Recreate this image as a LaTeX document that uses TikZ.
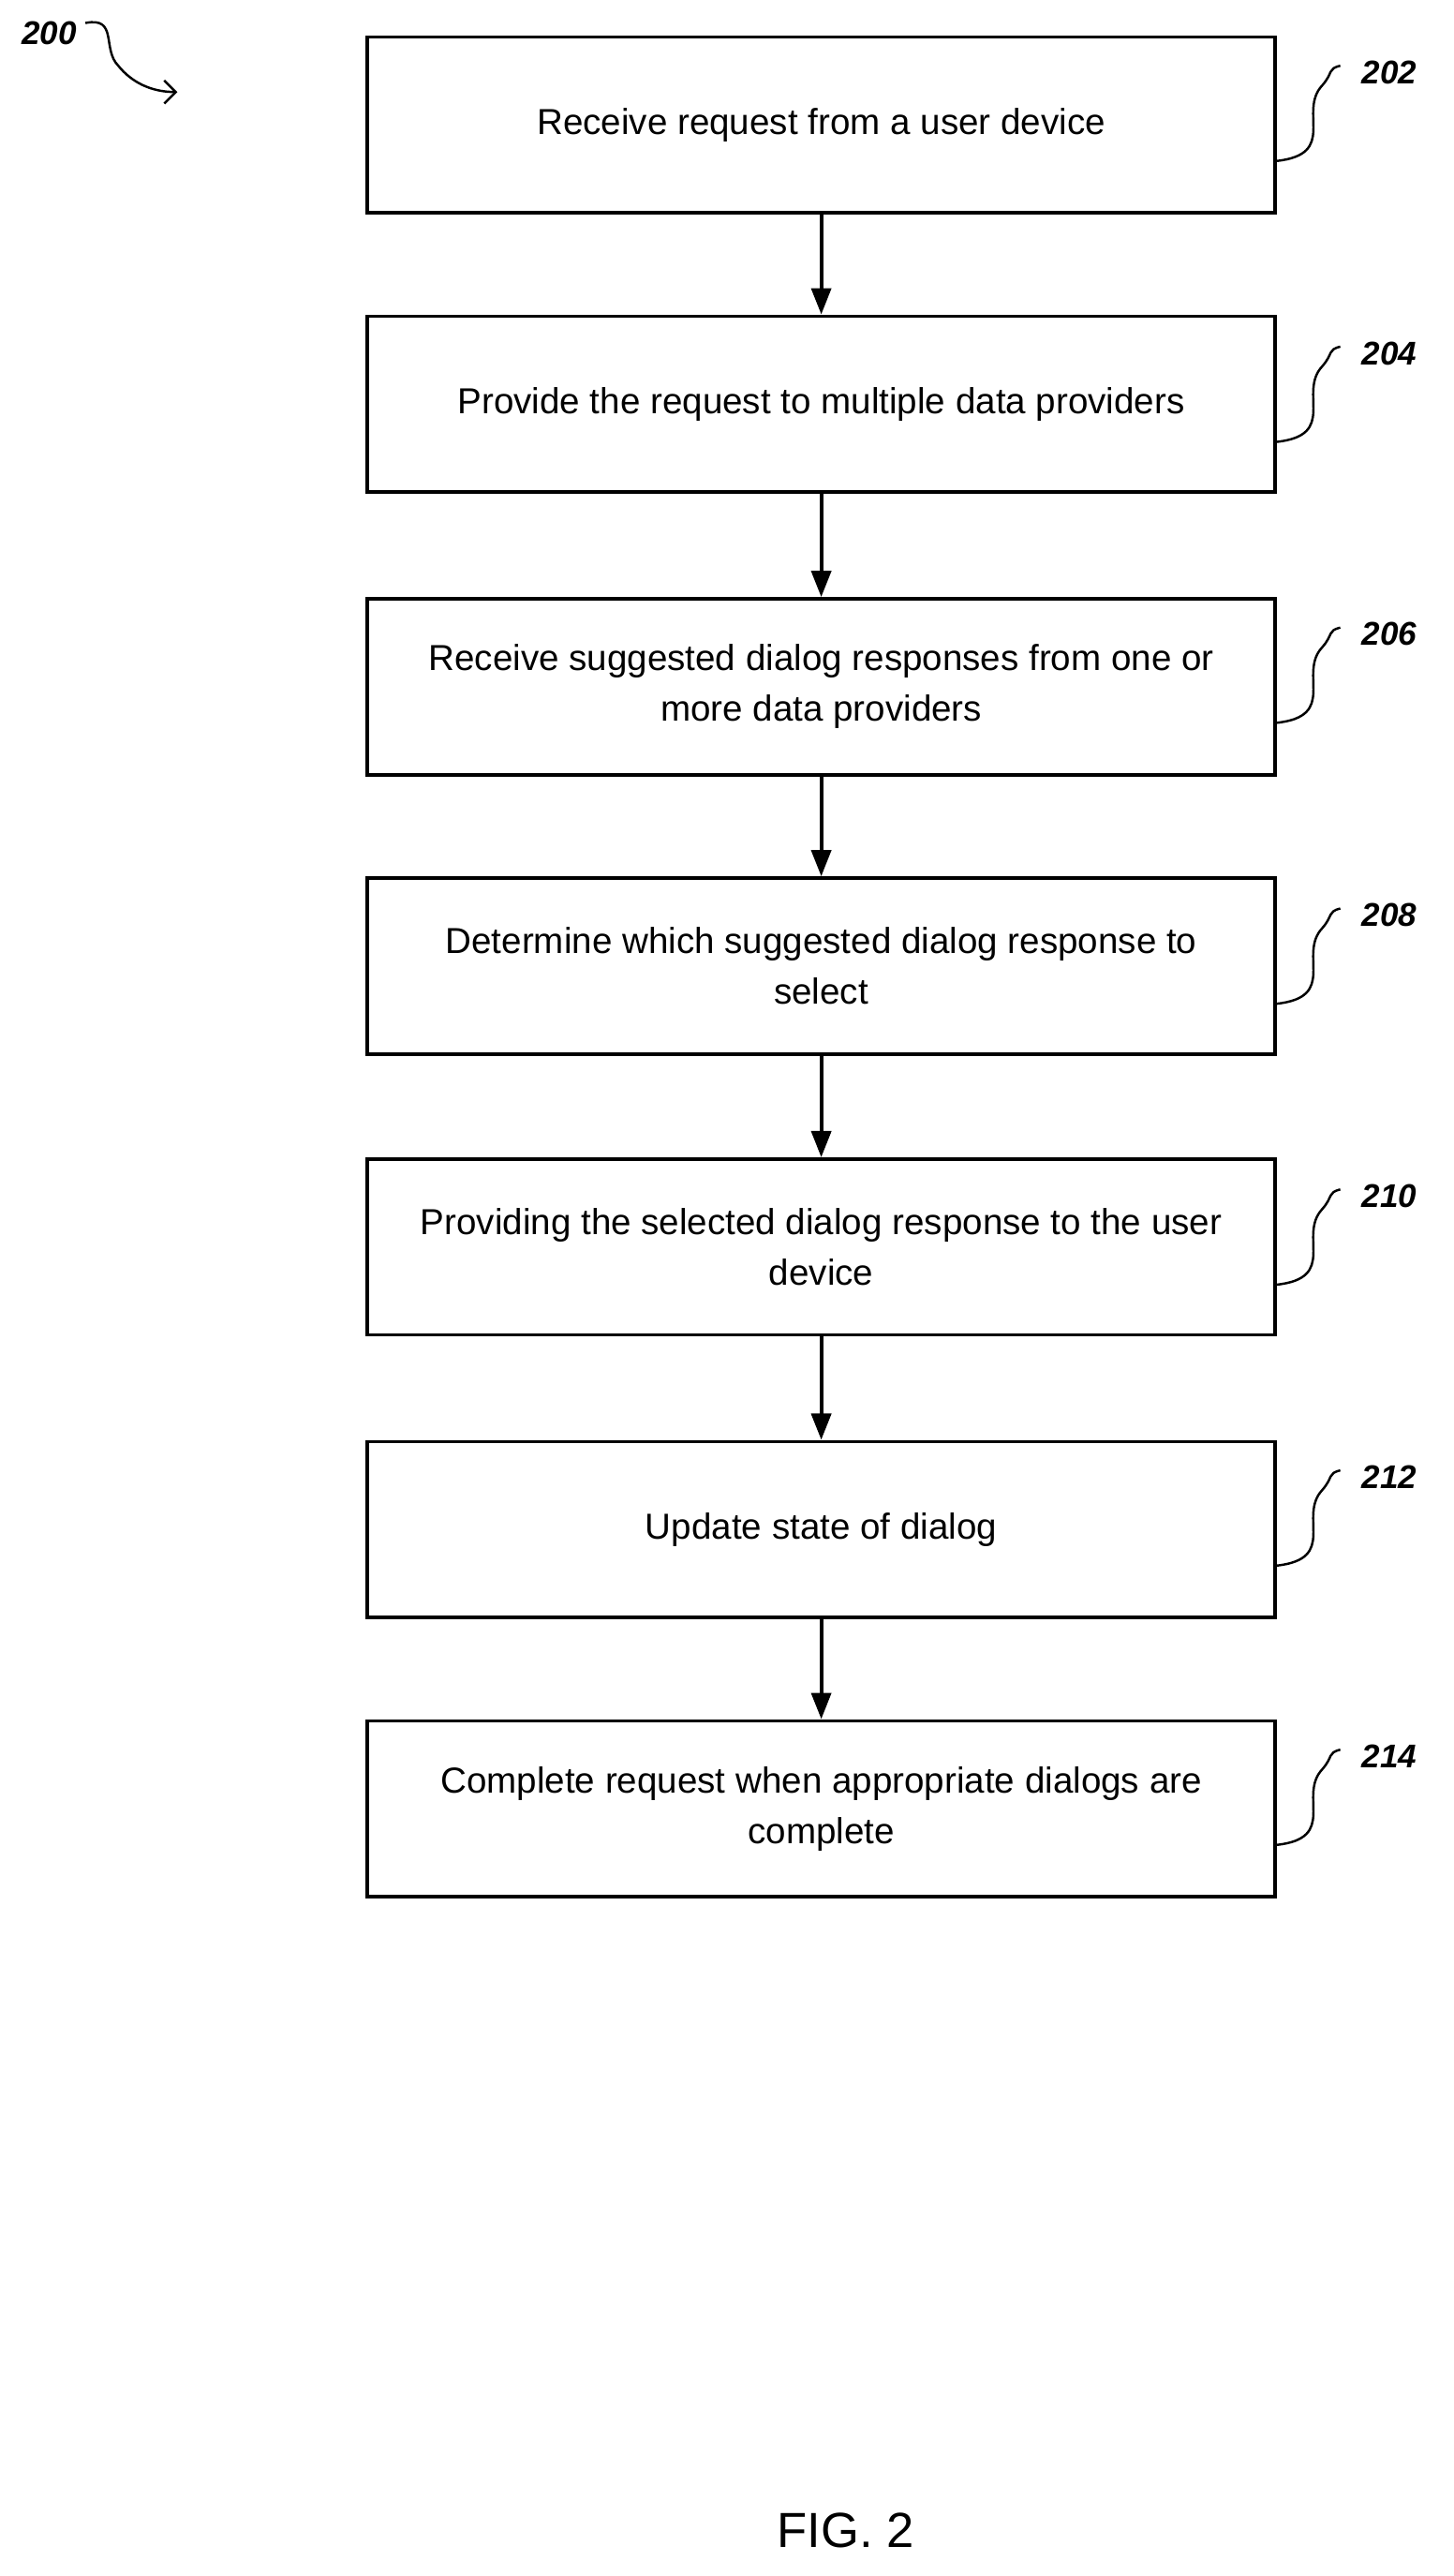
\documentclass[tikz,border=0pt]{standalone}
\usepackage{fontspec}
\setmainfont{Liberation Sans}
\usetikzlibrary{arrows.meta}
\tikzset{
  stepbox/.style={draw,line width=2.2pt,minimum width=553pt,minimum height=107pt,
    align=center,font=\fontsize{22}{31}\selectfont},
  flow/.style={-{Triangle[length=16pt,width=12pt]},line width=2.2pt},
  ref/.style={font=\fontsize{20}{24}\selectfont\bfseries\itshape},
  squig/.style={line width=1.4pt}
}
\begin{document}
\begin{tikzpicture}[x=1pt,y=-1pt]
    \useasboundingbox (0,0) rectangle (885,1568);

    \node[stepbox] (s202) at (500,76) {Receive request from a user device};
    \node[stepbox] (s204) at (500,246) {Provide the request to multiple data providers};
    \node[stepbox] (s206) at (500,418) {Receive suggested dialog responses from one or\\ more data providers};
    \node[stepbox] (s208) at (500,588) {Determine which suggested dialog response to\\ select};
    \node[stepbox] (s210) at (500,759) {Providing the selected dialog response to the user\\ device};
    \node[stepbox] (s212) at (500,931) {Update state of dialog};
    \node[stepbox] (s214) at (500,1101) {Complete request when appropriate dialogs are\\ complete};

    \draw[flow] (s202) -- (s204);
    \draw[flow] (s204) -- (s206);
    \draw[flow] (s206) -- (s208);
    \draw[flow] (s208) -- (s210);
    \draw[flow] (s210) -- (s212);
    \draw[flow] (s212) -- (s214);

    % reference numerals
    \foreach \n/\y in {202/22,204/193,206/364,208/535,210/706,212/877,214/1047} {
      \node[ref] (l\n) at (846,\y+22) {\n};
      \draw[squig] (777,\y+76) .. controls (815,\y+72) and (790,\y+46) .. (805,\y+30)
        .. controls (812,\y+22) and (808,\y+20) .. (816,\y+18);
    }

    \node[ref] (l200) at (30,20) {200};
    \coordinate (a200) at (108,56);
    \draw[squig,-{Straight Barb[length=7pt]}] (52,14) .. controls (72,10) and (62,30) .. (72,40)
      .. controls (80,50) and (92,56) .. (a200);

    \node[font=\fontsize{30}{36}\selectfont] (fig) at (515,1540) {FIG. 2};
  \end{tikzpicture}
\end{document}
